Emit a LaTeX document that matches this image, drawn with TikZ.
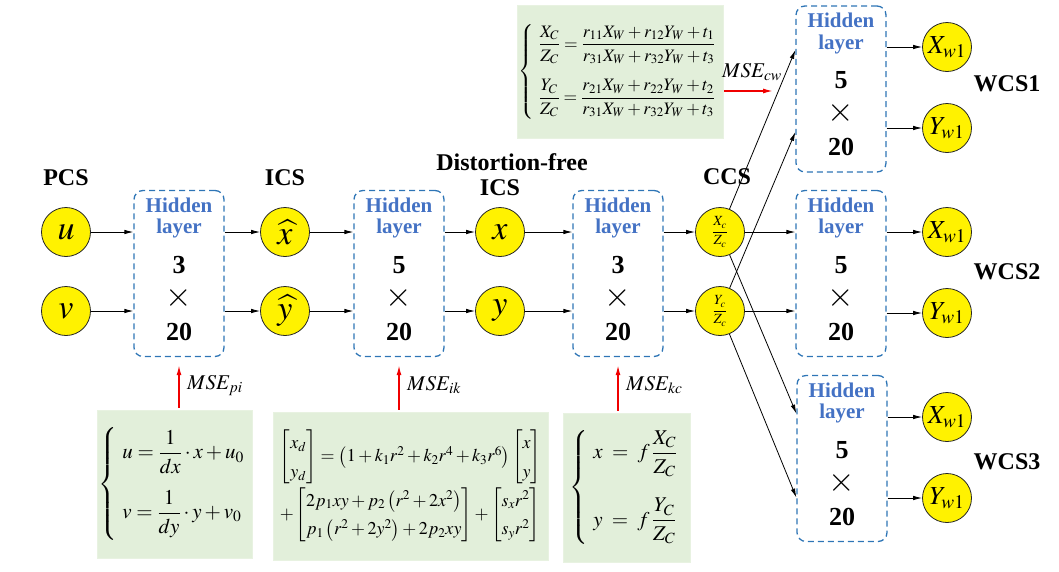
\documentclass[tikz,border=0pt]{standalone}
\usepackage{amsmath}
\usepackage{mathptmx}
\usepackage[no-math]{fontspec}
\setmainfont{Liberation Serif}
\usepackage{tikz}
\usetikzlibrary{positioning, calc, arrows.meta}

\definecolor{boxblue}{RGB}{46,117,182}
\definecolor{hidblue}{RGB}{68,114,196}
\definecolor{formgreen}{RGB}{226,239,218}
\definecolor{lossred}{RGB}{240,0,0}

\tikzset{
  unit/.style={circle, draw=black!85, line width=0.8pt, fill=yellow, minimum size=49pt, inner sep=0pt, font=\fontsize{34}{34}\selectfont},
  outunit/.style={unit, font=\fontsize{26}{26}\selectfont},
  ccsunit/.style={unit, font=\fontsize{14}{14}\selectfont},
  hidbox/.style={draw=boxblue, dash pattern=on 6pt off 4pt, line width=1.3pt, rounded corners=9pt, minimum width=90pt, minimum height=166pt},
  hidword/.style={text=hidblue, font=\fontsize{21}{21}\selectfont\bfseries, inner sep=0pt},
  hidnum/.style={font=\fontsize{26}{26}\selectfont\bfseries, inner sep=0pt},
  hidtimes/.style={font=\fontsize{34}{34}\selectfont, inner sep=0pt},
  formbox/.style={fill=formgreen, draw=formgreen!80!white, inner sep=0pt},
  title/.style={font=\fontsize{24}{24}\selectfont\bfseries},
  link/.style={-{Latex[length=9pt,width=4.5pt]}, line width=0.8pt},
  mse/.style={color=lossred, -{Latex[length=10pt,width=5pt]}, line width=1.4pt},
  mselabel/.style={font=\fontsize{21}{21}\selectfont, inner sep=0pt},
}

\begin{document}
\begin{tikzpicture}[x=1pt, y=-1pt]
\useasboundingbox (0,0) rectangle (1059,571);

% coordinate systems
\node[title] (pcs) at (66,178) {PCS};
\node[title] (ics1) at (285,178) {ICS};
\node[title] (dfree) at (512,162) {Distortion-free};
\node[title] (ics2) at (500,188) {ICS};
\node[title] (ccs) at (727,177) {CCS};
\node[title] (wcs1) at (1007,84) {WCS1};
\node[title] (wcs2) at (1007,272) {WCS2};
\node[title] (wcs3) at (1007,462) {WCS3};

% units
\node[unit] (u) at (66,232) {$u$};
\node[unit] (v) at (66,311) {$v$};
\node[unit] (xh) at (285,232) {$\widehat{x}$};
\node[unit] (yh) at (285,311) {$\widehat{y}$};
\node[unit] (x) at (500,232) {$x$};
\node[unit] (y) at (500,311) {$y$};
\node[ccsunit] (xc) at (720,232) {$\dfrac{X_c}{Z_c}$};
\node[ccsunit] (yc) at (720,311) {$\dfrac{Y_c}{Z_c}$};
\node[outunit] (xw1) at (947,47) {$X_{w1}$};
\node[outunit] (yw1) at (947,128) {$Y_{w1}$};
\node[outunit] (xw2) at (947,232) {$X_{w1}$};
\node[outunit] (yw2) at (947,313) {$Y_{w1}$};
\node[outunit] (xw3) at (947,417) {$X_{w1}$};
\node[outunit] (yw3) at (947,498) {$Y_{w1}$};

% hidden layers
\node[hidbox] (h1) at (179,273.5) {};
\node[hidbox] (h2) at (399,273.5) {};
\node[hidbox] (h3) at (618,273.5) {};
\node[hidbox] (w1) at (841,89) {};
\node[hidbox] (w2) at (841,273.5) {};
\node[hidbox] (w3) at (842,458.5) {};
\foreach \b/\n in {h1/3, h2/5, h3/3, w1/5, w2/5, w3/5} {
  \node[hidword] (\b-a) at ([yshift=-15pt]\b.north) {Hidden};
  \node[hidword] (\b-b) at ([yshift=-39pt]\b.north) {layer};
  \node[hidnum] (\b-c) at ([yshift=-75pt]\b.north) {\n};
  \node[hidtimes] (\b-d) at ([yshift=-108pt]\b.north) {$\times$};
  \node[hidnum] (\b-e) at ([yshift=-142pt]\b.north) {20};
}

% models
\node[formbox, minimum width=155pt, minimum height=148pt, font=\fontsize{21}{25}\selectfont] (f1) at (174.5,484)
  {$\left\{\begin{array}{l}
    \displaystyle u=\frac{1}{dx}\cdot x+u_0\\[24pt]
    \displaystyle v=\frac{1}{dy}\cdot y+v_0
  \end{array}\right.$};
\node[formbox, minimum width=275pt, minimum height=148pt, font=\fontsize{18}{22}\selectfont] (f2) at (410.5,486)
  {$\def\arraystretch{1.3}\begin{array}{l}
    \begin{bmatrix}x_d\\y_d\end{bmatrix}=\left(1+k_1r^2+k_2r^4+k_3r^6\right)\begin{bmatrix}x\\y\end{bmatrix}\\[16pt]
    +\begin{bmatrix}2p_1xy+p_2\left(r^2+2x^2\right)\\ p_1\left(r^2+2y^2\right)+2p_2xy\end{bmatrix}+\begin{bmatrix}s_xr^2\\s_yr^2\end{bmatrix}
  \end{array}$};
\node[formbox, minimum width=127pt, minimum height=149pt, font=\fontsize{21}{25}\selectfont] (f3) at (626.5,487.5)
  {$\left\{\begin{array}{l}
    \displaystyle x\;=\;f\,\frac{X_C}{Z_C}\\[32pt]
    \displaystyle y\;=\;f\,\frac{Y_C}{Z_C}
  \end{array}\right.$};
\node[formbox, minimum width=206pt, minimum height=133pt, font=\fontsize{17.5}{20}\selectfont] (f4) at (620,71.5)
  {$\left\{\begin{array}{l}
    \displaystyle \frac{X_C}{Z_C}=\frac{r_{11}X_W+r_{12}Y_W+t_1}{r_{31}X_W+r_{32}Y_W+t_3}\\[24pt]
    \displaystyle \frac{Y_C}{Z_C}=\frac{r_{21}X_W+r_{22}Y_W+t_2}{r_{31}X_W+r_{32}Y_W+t_3}
  \end{array}\right.$};

% forward connections
\foreach \a/\b in {u/h1, v/h1, xh/h2, yh/h2, x/h3, y/h3, xc/w2, yc/w2}
  \draw[link] (\a) -- (\b.west |- \a);
\foreach \a/\b in {h1/xh, h1/yh, h2/x, h2/y, h3/xc, h3/yc, w1/xw1, w1/yw1, w2/xw2, w2/yw2, w3/xw3, w3/yw3}
  \draw[link] (\a.east |- \b) -- (\b);
\draw[link] (xc) -- ([yshift=39pt]w1.west);
\draw[link] (yc) -- ([yshift=-43pt]w1.west);
\draw[link] (xc) -- ([yshift=45pt]w3.west);
\draw[link] (yc) -- ([yshift=-39pt]w3.west);

% losses
\draw[mse] ([yshift=2pt]h1.south |- f1.north) -- ([yshift=-8pt]h1.south);
\draw[mse] ([yshift=2pt]h2.south |- f2.north) -- ([yshift=-8pt]h2.south);
\draw[mse] ([yshift=2pt]h3.south |- f3.north) -- ([yshift=-8pt]h3.south);
\node[mselabel, anchor=west] (pilabel) at ([xshift=8pt, yshift=-28pt]h1.south) {$MSE_{pi}$};
\node[mselabel, anchor=west] (iklabel) at ([xshift=8pt, yshift=-28pt]h2.south) {$MSE_{ik}$};
\node[mselabel, anchor=west] (kclabel) at ([xshift=8pt, yshift=-28pt]h3.south) {$MSE_{kc}$};
\coordinate (cwend) at (773,91);
\draw[mse] ([xshift=1pt]f4.east |- cwend) -- (cwend);
\node[mselabel] (cwlabel) at (752,72) {$MSE_{cw}$};
\end{tikzpicture}
\end{document}
